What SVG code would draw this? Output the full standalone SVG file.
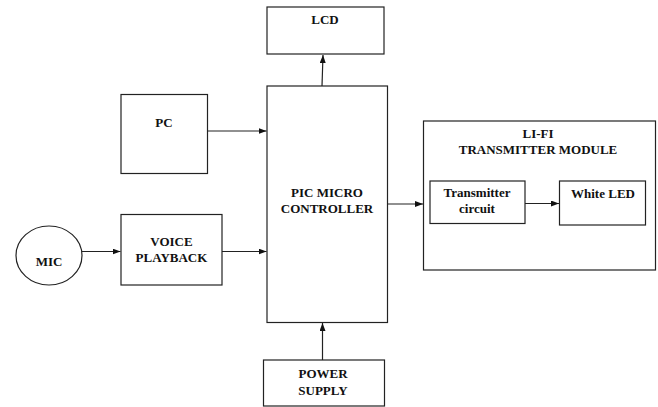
<svg xmlns="http://www.w3.org/2000/svg" width="658" height="407" viewBox="0 0 658 407">
<style>
.b{fill:#fff;stroke:#222;stroke-width:1.2}
.t{font-family:"Liberation Serif","Times New Roman",serif;font-weight:bold;font-size:13px;fill:#111;text-anchor:middle}
.c{stroke:#222;stroke-width:1.2;fill:none;marker-end:url(#a)}
</style>
<defs>
<marker id="a" markerWidth="8" markerHeight="6" refX="8" refY="3" orient="auto" markerUnits="userSpaceOnUse">
<path d="M0,0 L8,3 L0,6 Z" fill="#111"/>
</marker>
</defs>
<rect width="658" height="407" fill="#fff"/>
<g id="lcd"><rect class="b" x="267" y="7" width="117" height="47"/><text class="t" x="325" y="24">LCD</text></g>
<g id="pc"><rect class="b" x="121" y="94.5" width="86.5" height="79"/><text class="t" x="164" y="127">PC</text></g>
<g id="pic"><rect class="b" x="267" y="86" width="120.5" height="236.5"/><text class="t" x="327" y="197">PIC MICRO</text><text class="t" x="327" y="213">CONTROLLER</text></g>
<g id="mic"><ellipse class="b" cx="49" cy="255.5" rx="33" ry="29.5"/><text class="t" x="49" y="266">MIC</text></g>
<g id="voice"><rect class="b" x="121" y="214.5" width="101" height="70.5"/><text class="t" x="171.5" y="246">VOICE</text><text class="t" x="171.5" y="262">PLAYBACK</text></g>
<g id="power"><rect class="b" x="263.5" y="360" width="121" height="46"/><text class="t" x="323" y="378">POWER</text><text class="t" x="323" y="394.5">SUPPLY</text></g>
<g id="lifi"><rect class="b" x="423.5" y="121" width="232" height="149"/><text class="t" x="538" y="138">LI-FI</text><text class="t" x="538" y="153.5">TRANSMITTER MODULE</text></g>
<g id="tx"><rect class="b" x="430" y="181" width="95" height="42.5"/><text class="t" x="477" y="197">Transmitter</text><text class="t" x="477" y="213">circuit</text></g>
<g id="led"><rect class="b" x="559.5" y="181" width="86" height="44"/><text class="t" x="603" y="198">White LED</text></g>
<g id="connectors">
<line class="c" x1="322" y1="86" x2="323" y2="55"/>
<line class="c" x1="207.5" y1="131" x2="266.5" y2="131"/>
<line class="c" x1="82" y1="251.5" x2="120.5" y2="251.5"/>
<line class="c" x1="222" y1="251.5" x2="266.5" y2="251.5"/>
<line class="c" x1="322.5" y1="360" x2="322.5" y2="323"/>
<line class="c" x1="387.5" y1="204" x2="423" y2="204"/>
<line class="c" x1="525" y1="203.5" x2="559" y2="203.5"/>
</g>
</svg>
